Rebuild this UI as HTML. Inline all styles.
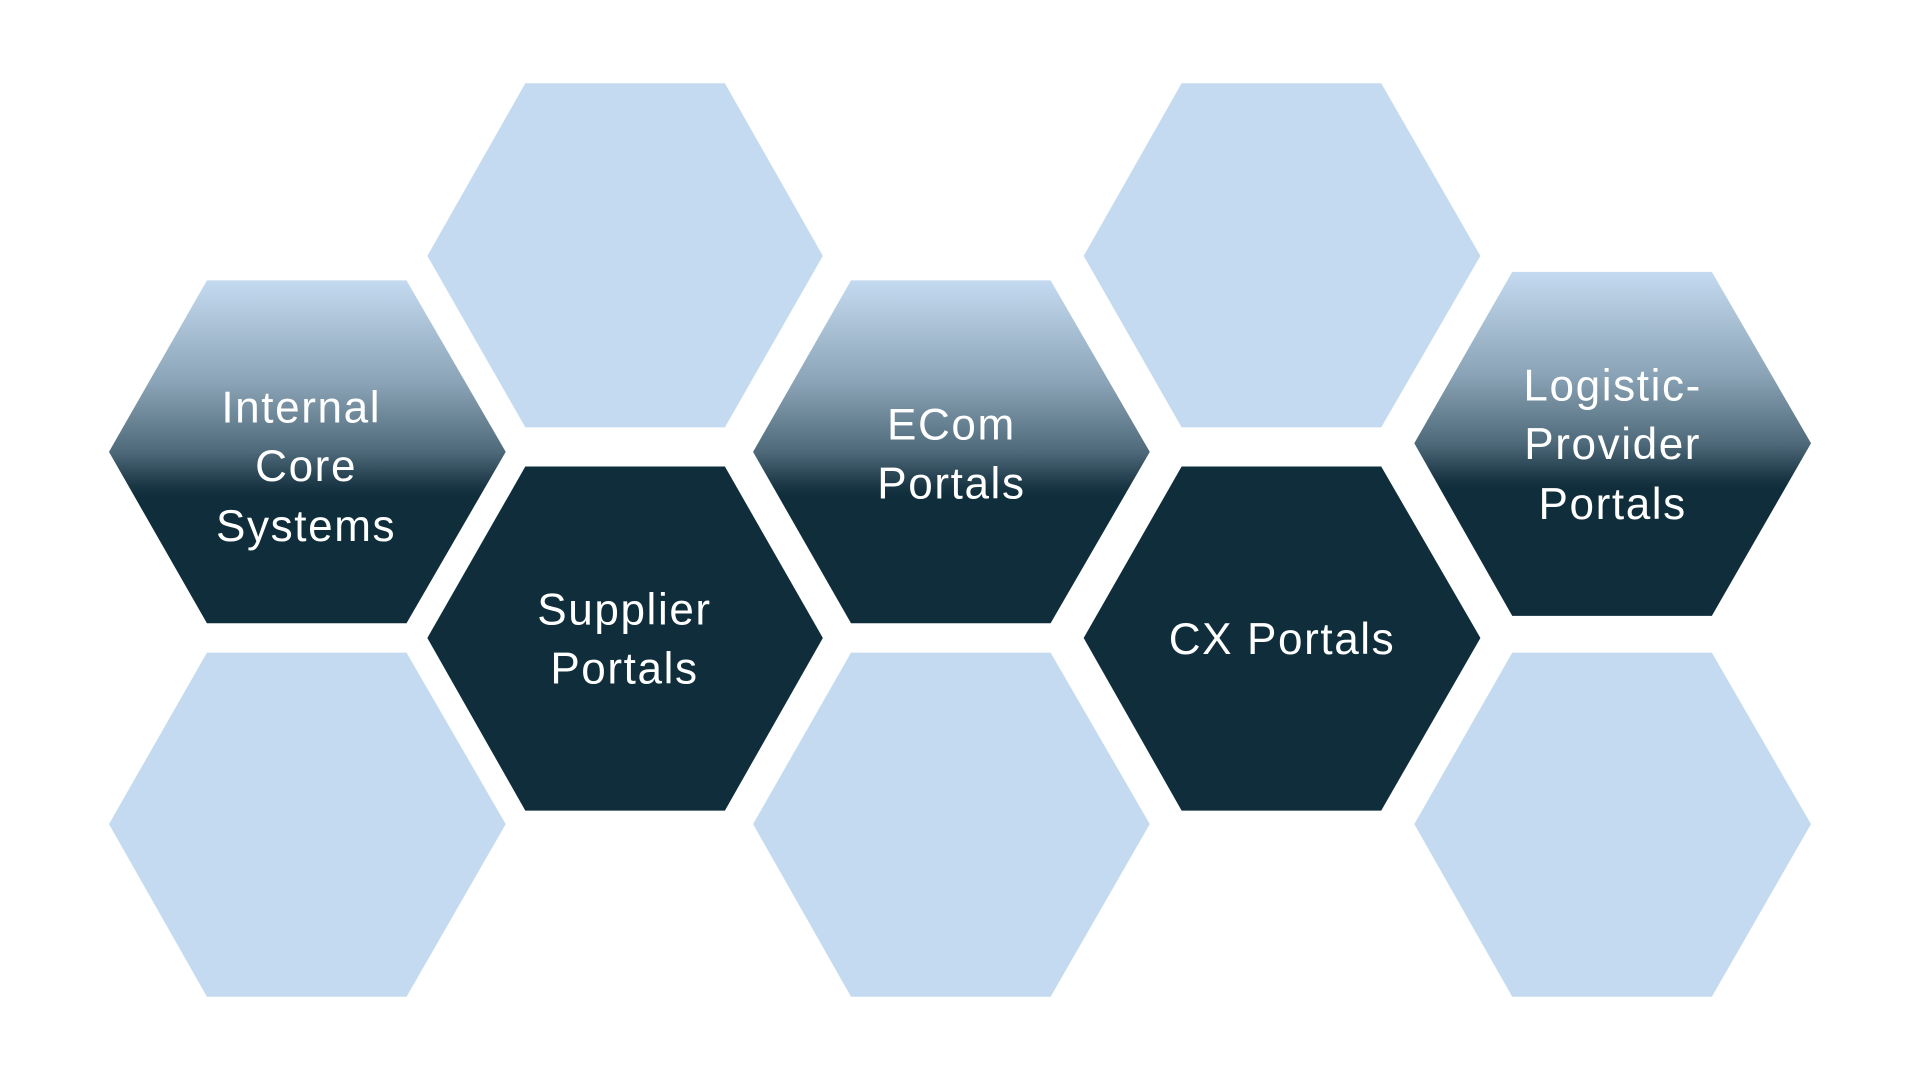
<!DOCTYPE html>
<html><head><style>html,body{margin:0;padding:0;background:#fff;}svg{display:block}</style></head>
<body>
<svg width="1920" height="1080" viewBox="0 0 1568 882" xmlns="http://www.w3.org/2000/svg" preserveAspectRatio="none">
<defs>
<linearGradient id="g" x1="0" y1="0" x2="0" y2="1">
<stop offset="0" stop-color="#c4daf0"/>
<stop offset="0.3" stop-color="#8aa3b6"/>
<stop offset="0.5" stop-color="#4e6a7a"/>
<stop offset="0.6" stop-color="#1a3645"/>
<stop offset="0.63" stop-color="#0f2d3b"/>
<stop offset="1" stop-color="#0f2d3b"/>
</linearGradient>
</defs>
<g fill="#c4daf0">
<polygon points="349,209 429,68 592,68 672,209 592,349 429,349"/>
<polygon points="885,209 965,68 1128,68 1209,209 1128,349 965,349"/>
<polygon points="89,673 169,533 332,533 413,673 332,814 169,814"/>
<polygon points="615,673 695,533 858,533 939,673 858,814 695,814"/>
<polygon points="1155,673 1235,533 1398,533 1479,673 1398,814 1235,814"/>
</g>
<polygon fill="url(#g)" points="89,369 169,229 332,229 413,369 332,509 169,509"/>
<polygon fill="url(#g)" points="615,369 695,229 858,229 939,369 858,509 695,509"/>
<polygon fill="url(#g)" points="1155,362 1235,222 1398,222 1479,362 1398,503 1235,503"/>
<polygon fill="#0f2d3b" points="349,521 429,381 592,381 672,521 592,662 429,662"/>
<polygon fill="#0f2d3b" points="885,521 965,381 1128,381 1209,521 1128,662 965,662"/>
<g fill="#fff" font-family="Liberation Sans, sans-serif" font-size="36" text-anchor="middle" letter-spacing="1.3">
<text x="246" y="345">Internal</text>
<text x="250" y="393">Core</text>
<text x="250" y="442">Systems</text>
<text x="777" y="359">ECom</text>
<text x="777" y="407">Portals</text>
<text x="1317" y="327">Logistic-</text>
<text x="1317" y="375">Provider</text>
<text x="1317" y="424">Portals</text>
<text x="510" y="510">Supplier</text>
<text x="510" y="558">Portals</text>
<text x="1047" y="534">CX Portals</text>
</g>
</svg>
</body></html>
